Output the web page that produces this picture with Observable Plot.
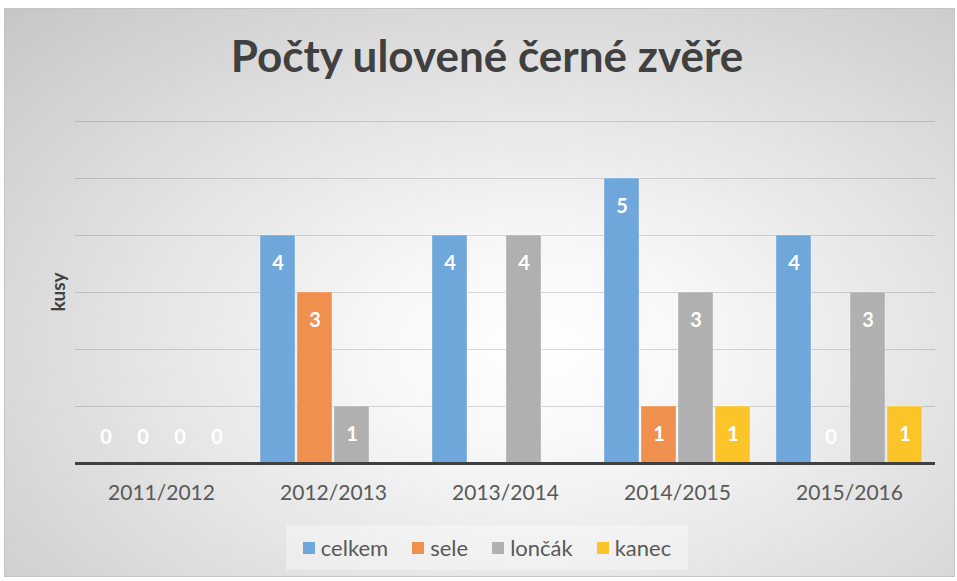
<!DOCTYPE html>
<html>
<head>
<meta charset="utf-8">
<script src="https://cdn.jsdelivr.net/npm/d3@7"></script>
<script src="https://cdn.jsdelivr.net/npm/@observablehq/plot@0.6"></script>
<style>
  html, body { margin: 0; padding: 0; background: #fff; }
  #page { position: relative; width: 957px; height: 581px; overflow: hidden; font-family: Lato, "Open Sans", sans-serif; }
  #frame { position: absolute; left: 4px; top: 8px; width: 951px; height: 569px; border: 1px solid #c4c4c4; box-sizing: border-box;
    background: radial-gradient(ellipse farthest-corner at 56% 60%, #ffffff 0%, #f7f7f7 22%, #e3e3e3 55%, #c6c6c6 100%); }
  #title { position: absolute; left: 0; width: 974px; top: 29px; text-align: center; font-size: 44px; font-weight: 700; color: #404040; }
  #chart { position: absolute; left: 0; top: 100px; }
  #ylabel { position: absolute; left: 57px; top: 292px; transform: translate(-50%, -50%) rotate(-90deg); font-size: 19px; font-weight: 700; color: #404040; }
  #legend { position: absolute; left: 286px; top: 525px; width: 402px; height: 45px; background: rgba(255,255,255,0.35);
    display: flex; align-items: center; justify-content: center; gap: 24px; font-size: 22px; color: #595959; }
  .item { display: flex; align-items: center; gap: 6px; }
  .sw { width: 12px; height: 12px; display: inline-block; }
</style>
</head>
<body>
<div id="page">
  <div id="frame"></div>
  <div id="title">Počty ulovené černé zvěře</div>
  <div id="chart"></div>
  <div id="ylabel">kusy</div>
  <div id="legend"></div>
</div>
<script>
const seasons = ["2011/2012", "2012/2013", "2013/2014", "2014/2015", "2015/2016"];
const series = ["celkem", "sele", "lončák", "kanec"];
const celkem = [0, 4, 4, 5, 4];
const sele = [0, 3, null, 1, 0];
const loncak = [0, 1, 4, 3, 3];
const kanec = [0, null, null, 1, 1];
const colors = ["#6FA7DB", "#F0904F", "#B0B0B0", "#FBC52A"];
const gridValues = [1, 2, 3, 4, 5, 6];

const valuesBySeries = [celkem, sele, loncak, kanec];
const data = [];
seasons.forEach((s, i) => {
  series.forEach((k, j) => {
    const v = valuesBySeries[j][i];
    if (v !== null) data.push({season: s, series: k, value: v});
  });
});

const chart = Plot.plot({
  width: 957,
  height: 430,
  marginLeft: 73,
  marginRight: 20,
  marginTop: 21,
  marginBottom: 67,
  style: { background: "transparent", fontFamily: "Lato, 'Open Sans', sans-serif", overflow: "visible" },
  fx: { domain: seasons, paddingInner: 0, paddingOuter: 0, label: null },
  x: { domain: series, paddingInner: 0.05, paddingOuter: 0.33, axis: null },
  y: { domain: [0, 6], axis: null },
  color: { domain: series, range: colors },
  marks: [
    Plot.ruleY(gridValues, { stroke: "black", strokeOpacity: 0.14, strokeWidth: 1 }),
    Plot.barY(data, { fx: "season", x: "series", y: "value", fill: "series", stroke: "white", strokeOpacity: 0.35, strokeWidth: 1 }),
    Plot.text(data.filter(d => d.value > 0), { fx: "season", x: "series", y: "value", text: d => String(d.value), dy: 28, fill: "white", fontWeight: 700, fontSize: 20 }),
    Plot.text(data.filter(d => d.value === 0), { fx: "season", x: "series", y: "value", text: d => String(d.value), dy: -26, fill: "white", fontWeight: 700, fontSize: 20 }),
    Plot.ruleY([0], { stroke: "#404040", strokeWidth: 3 }),
    Plot.axisFx({ anchor: "bottom", tickSize: 0, tickPadding: 22, fontSize: 21, color: "#595959", label: null })
  ]
});
document.getElementById("chart").appendChild(chart);

const legend = document.getElementById("legend");
series.forEach((k, j) => {
  const item = document.createElement("div");
  item.className = "item";
  const sw = document.createElement("span");
  sw.className = "sw";
  sw.style.background = colors[j];
  const t = document.createElement("span");
  t.textContent = k;
  item.appendChild(sw);
  item.appendChild(t);
  legend.appendChild(item);
});
</script>
</body>
</html>
